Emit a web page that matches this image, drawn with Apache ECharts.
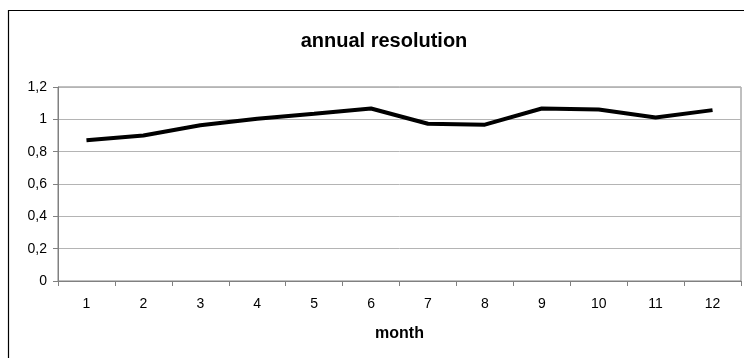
<!DOCTYPE html>
<html>
<head>
<meta charset="utf-8">
<script src="https://cdn.jsdelivr.net/npm/echarts@6/dist/echarts.min.js"></script>
<style>html,body{margin:0;padding:0;background:#fff}#c{width:744px;height:358px}</style>
</head>
<body>
<div id="c"></div>
<script>
const months = ['1','2','3','4','5','6','7','8','9','10','11','12'];
const values = [0.87, 0.90, 0.963, 1.004, 1.035, 1.067, 0.973, 0.967, 1.067, 1.061, 1.011, 1.057];
const yTicks = [0, 0.2, 0.4, 0.6, 0.8, 1, 1.2];
const titleText = 'annual resolution';
const xName = 'month';

const chart = echarts.init(document.getElementById('c'), null, {renderer: 'canvas'});
chart.setOption({
  animation: false,
  backgroundColor: '#fff',
  textStyle: {fontFamily: 'Liberation Sans, Arial, sans-serif'},
  graphic: [{
    type: 'rect', silent: true, z: 100,
    shape: {x: 8.5, y: 10.5, width: 800, height: 400},
    style: {fill: 'none', stroke: '#000', lineWidth: 1.2}
  }],
  title: {
    text: titleText, left: 379, top: 26, textAlign: 'center',
    textStyle: {fontSize: 20, fontWeight: 'bold', color: '#000', fontFamily: 'Liberation Sans, Arial, sans-serif'}
  },
  grid: {left: 58, right: 3, top: 87, bottom: 77, show: true, borderColor: '#808080', borderWidth: 1},
  xAxis: {
    type: 'category', data: months, boundaryGap: true,
    name: xName, nameLocation: 'middle', nameGap: 45,
    nameTextStyle: {fontSize: 16, fontWeight: 'bold', color: '#000'},
    axisLine: {lineStyle: {color: '#808080', width: 1}},
    axisTick: {show: true, length: 5, lineStyle: {color: '#808080'}},
    axisLabel: {fontSize: 14, color: '#000', margin: 16}
  },
  yAxis: {
    type: 'value', min: 0, max: 1.2, interval: 0.2,
    axisLine: {show: true, lineStyle: {color: '#808080', width: 1}},
    axisTick: {show: true, length: 5, lineStyle: {color: '#808080'}},
    axisLabel: {fontSize: 14, color: '#000', margin: 11,
      formatter: v => String(+(+v).toFixed(1)).replace('.', ',')},
    splitLine: {show: true, lineStyle: {color: '#b4b4b4', width: 1}}
  },
  series: [{
    type: 'line', data: values, showSymbol: false, symbol: 'none',
    lineStyle: {color: '#000', width: 4}, itemStyle: {color: '#000'}
  }]
});
</script>
</body>
</html>
